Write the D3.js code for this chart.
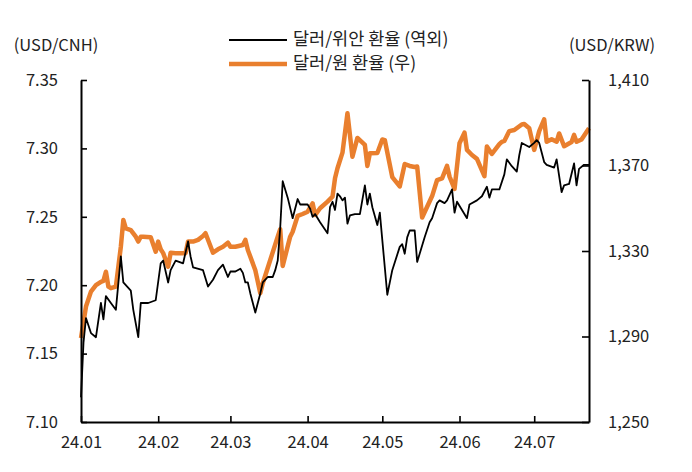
<!DOCTYPE html>
<html><head><meta charset="utf-8">
<script src="https://cdn.jsdelivr.net/npm/d3@7"></script>
<style>
html,body{margin:0;padding:0;background:#fff;}
svg text{font-family:"Noto Sans CJK KR","Noto Sans",sans-serif;fill:#222;}
</style></head>
<body><svg id="c" width="692" height="472"></svg>
<script>
// USD/CNH (offshore) — left axis: [day offset from 2024-01-01, value]
const cnhDays = [0,1,2,4,6,8,9,10,12,14,16,17,20,21,23,24,27,30,32,33,35,36,38,41,43,44,45,49,51,53,55,57,59,60,62,64,65,66,67,68,70,72,73,75,77,78,79,80,81,83,85,87,88,89,91,92,93,94,96,99,100,101,102,103,104,105,106,107,108,110,112,114,115,116,117,119,120,121,123,125,128,129,130,131,132,134,135,136,138,140,141,143,144,146,147,149,150,151,153,155,156,159,161,163,164,165,168,170,171,173,175,176,177,180,182,183,184,186,187,190,191,193,194,196,198,199,200,202,204];
const cnhValues = [7.118,7.158,7.176,7.165,7.162,7.187,7.175,7.192,7.187,7.182,7.221,7.202,7.196,7.182,7.162,7.187,7.187,7.189,7.216,7.218,7.202,7.211,7.218,7.216,7.232,7.221,7.213,7.211,7.199,7.204,7.211,7.215,7.206,7.210,7.210,7.212,7.209,7.202,7.202,7.194,7.180,7.194,7.202,7.206,7.206,7.211,7.218,7.242,7.276,7.264,7.249,7.263,7.259,7.259,7.259,7.256,7.250,7.252,7.246,7.238,7.257,7.261,7.255,7.267,7.265,7.262,7.264,7.245,7.251,7.252,7.252,7.273,7.259,7.267,7.257,7.244,7.253,7.233,7.193,7.211,7.228,7.230,7.223,7.235,7.240,7.240,7.217,7.223,7.235,7.246,7.249,7.260,7.262,7.260,7.262,7.270,7.253,7.261,7.255,7.249,7.259,7.262,7.265,7.272,7.264,7.270,7.270,7.281,7.292,7.287,7.283,7.295,7.304,7.301,7.304,7.306,7.304,7.290,7.288,7.286,7.292,7.268,7.273,7.274,7.289,7.273,7.285,7.288,7.288];
// USD/KRW — right axis
const krwDays = [0,2,4,6,8,9,10,11,12,14,16,17,18,20,22,23,24,25,28,30,31,32,33,35,36,38,42,43,45,47,49,50,53,55,57,59,60,62,65,66,67,70,72,73,76,79,80,81,84,85,87,89,91,93,94,96,99,101,102,103,105,107,109,111,114,115,116,119,121,122,125,128,130,132,134,135,137,139,141,143,145,147,148,150,152,154,155,157,159,162,163,165,168,169,170,172,174,177,178,180,182,184,186,187,189,191,192,194,197,198,199,201,204];
const krwValues = [1289.3,1304,1311,1314,1315.6,1316,1320.3,1313.3,1312.6,1313.3,1332,1344.5,1340.6,1339.8,1336.7,1334.4,1336.7,1336.7,1336.4,1329.7,1334.4,1330.8,1329,1322.7,1329.2,1329,1329,1334.4,1334.4,1335.2,1337,1338.3,1329.2,1330.8,1332,1333.9,1332,1332,1332.8,1335.2,1330.5,1321,1310.2,1314.9,1325.8,1336.7,1340.2,1323,1336.7,1339,1346.4,1347.3,1348.4,1352.3,1346.8,1350,1353.1,1355.4,1364,1368.7,1376,1394.4,1374.1,1382.9,1379.6,1369.8,1375.7,1375.8,1382.2,1381.9,1364.6,1360.2,1370.7,1369.8,1369.3,1369.5,1345.7,1350.7,1355.7,1363.2,1364,1369.8,1364.8,1359,1380.4,1385.4,1377.3,1374.9,1373.1,1365,1378.9,1375.4,1380,1381.1,1381.5,1386.1,1386.6,1389.2,1389.4,1387.4,1377.3,1386.1,1391.6,1381.1,1382.3,1381.1,1385,1379,1381,1384.3,1381.1,1382.2,1387.4];
const leftTicks = [7.10,7.15,7.20,7.25,7.30,7.35];
const rightTicks = [1250,1290,1330,1370,1410];
const monthTicks = ["2024-01-01","2024-02-01","2024-03-01","2024-04-01","2024-05-01","2024-06-01","2024-07-01"];
const legendLabels = ["달러/위안 환율 (역외)","달러/원 환율 (우)"];
const leftTitle = "(USD/CNH)", rightTitle = "(USD/KRW)";

const start = new Date(2024,0,1);
const toDate = d => new Date(2024,0,1+d);
const cnh = cnhDays.map((d,i)=>({date:toDate(d), v:cnhValues[i]}));
const krw = krwDays.map((d,i)=>({date:toDate(d), v:krwValues[i]}));

const svg = d3.select("#c");
const L=81, R=589, T=80, B=422;
const x = d3.scaleTime().domain([start, toDate(204)]).range([L,R]);
const yL = d3.scaleLinear().domain([7.10,7.35]).range([B,T]);
const yR = d3.scaleLinear().domain([1250,1410]).range([B,T]);

const fs = 16.5, fsLeg = 17.5;
// lines
svg.append("path").datum(krw).attr("fill","none").attr("stroke","#E97F2E").attr("stroke-width",4.5)
  .attr("stroke-linejoin","round").attr("d", d3.line().x(d=>x(d.date)).y(d=>yR(d.v)));
svg.append("path").datum(cnh).attr("fill","none").attr("stroke","#000").attr("stroke-width",1.8)
  .attr("stroke-linejoin","round").attr("d", d3.line().x(d=>x(d.date)).y(d=>yL(d.v)));

function style(g){
  g.selectAll("path.domain").attr("stroke","#000").attr("stroke-width",2);
  g.selectAll(".tick line").attr("stroke","#000").attr("stroke-width",1.6);
  g.selectAll(".tick text").attr("font-size",fs).attr("font-family",'"Noto Sans CJK KR","Noto Sans",sans-serif').attr("fill","#222");
}
svg.append("g").attr("transform",`translate(${L},0)`)
  .call(d3.axisLeft(yL).tickValues(leftTicks).tickFormat(d3.format(".2f")).tickSize(-6).tickSizeOuter(0).tickPadding(23))
  .call(style);
svg.append("g").attr("transform",`translate(${R},0)`)
  .call(d3.axisRight(yR).tickValues(rightTicks).tickFormat(d3.format(",")).tickSize(-7).tickSizeOuter(0).tickPadding(19))
  .call(style);
svg.append("g").attr("transform",`translate(0,${B})`)
  .call(d3.axisBottom(x).tickValues(monthTicks.map(s=>new Date(s+"T00:00:00"))).tickFormat(d3.timeFormat("%y.%m")).tickSize(-6).tickSizeOuter(0).tickPadding(14))
  .call(style);

svg.append("text").attr("x",56).attr("y",51).attr("text-anchor","middle").attr("font-size",fs).text(leftTitle);
svg.append("text").attr("x",612).attr("y",51).attr("text-anchor","middle").attr("font-size",fs).text(rightTitle);

// legend
const lg = svg.append("g");
[["#000",1.8],["#E97F2E",4.5]].forEach((s,i)=>{
  const yy = 40 + i*24;
  lg.append("line").attr("x1",229).attr("x2",287).attr("y1",yy).attr("y2",yy).attr("stroke",s[0]).attr("stroke-width",s[1]);
  lg.append("text").attr("x",293).attr("y",yy+5).attr("font-size",fsLeg).text(legendLabels[i]);
});
</script></body></html>
